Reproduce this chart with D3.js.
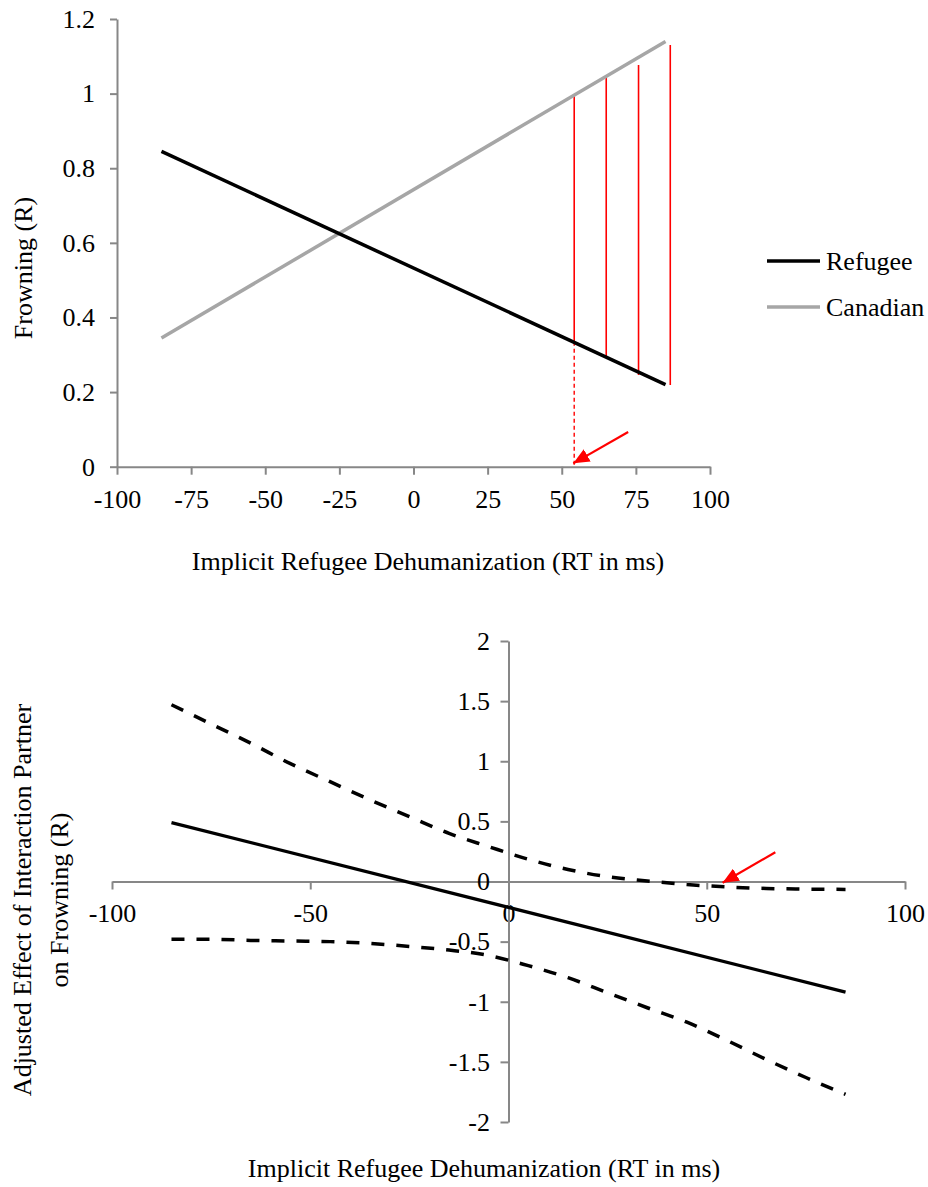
<!DOCTYPE html>
<html>
<head>
<meta charset="utf-8">
<script src="https://cdn.jsdelivr.net/npm/d3@7"></script>
<style>
  html, body { margin: 0; padding: 0; background: #fff; }
  svg { display: block; }
  text { font-family: "Liberation Serif", "Times New Roman", serif; fill: #000; }
</style>
</head>
<body>
<svg id="chart" width="928" height="1187"></svg>
<script>
// ---------- Top chart data ----------
const topXTicks = [-100, -75, -50, -25, 0, 25, 50, 75, 100];
const topYTicks = [0, 0.2, 0.4, 0.6, 0.8, 1, 1.2];
const groupX = [-85, 85];
const refugeeY = [0.845, 0.22];
const canadianY = [0.345, 1.14];
const seriesNames = ["Refugee", "Canadian"];
const redX = [54.2, 65.0, 75.9, 86.6];
const redTop = [0.997, 1.047, 1.077, 1.130];
const redBottom = [0.335, 0.295, 0.246, 0.219];
const topArrowFrom = [72.4, 0.093];
const topArrowTo = [53.9, 0.009];
const topXTitle = "Implicit Refugee Dehumanization (RT in ms)";
const topYTitle = "Frowning (R)";

// ---------- Bottom chart data ----------
const botXTicks = [-100, -50, 0, 50, 100];
const botYTicks = [-2, -1.5, -1, -0.5, 0, 0.5, 1, 1.5, 2];
const effX     = [-85, -75, -65, -55, -45, -35, -25, -15, -5, 5, 15, 25, 35, 45, 55, 65, 75, 85];
const effUpper = [1.47, 1.31, 1.15, 0.98, 0.83, 0.68, 0.54, 0.40, 0.29, 0.185, 0.10, 0.04, 0.005, -0.025, -0.045, -0.058, -0.063, -0.066];
const effLower = [-0.48, -0.48, -0.49, -0.495, -0.50, -0.515, -0.54, -0.57, -0.615, -0.70, -0.80, -0.925, -1.05, -1.17, -1.32, -1.48, -1.63, -1.77];
const effMidX = [-85, 85];
const effMid  = [0.49, -0.92];
const botArrowFrom = [67.3, 0.243];
const botArrowTo = [54.0, -0.011];
const botXTitle = "Implicit Refugee Dehumanization (RT in ms)";
const botYTitle = ["Adjusted Effect of Interaction Partner", "on Frowning (R)"];

const FONT = 26;
const AXIS = "#878787";
const GRAY = "#a6a6a6";
const RED = "#ff0000";

const svg = d3.select("#chart");
svg.append("rect").attr("width", 928).attr("height", 1187).attr("fill", "#fff");

const defs = svg.append("defs");
defs.append("marker")
  .attr("id", "arrowhead")
  .attr("markerUnits", "userSpaceOnUse")
  .attr("viewBox", "0 0 16 14")
  .attr("refX", 16).attr("refY", 7)
  .attr("markerWidth", 16).attr("markerHeight", 14)
  .attr("orient", "auto")
  .append("path").attr("d", "M0,0 L16,7 L0,14 Z").attr("fill", RED);

const fmt = d => String(d);

function styleAxis(g) {
  g.selectAll("path.domain").attr("stroke", AXIS).attr("stroke-width", 2);
  g.selectAll(".tick line").attr("stroke", AXIS).attr("stroke-width", 2);
  g.selectAll(".tick text").attr("font-size", FONT).attr("fill", "#000")
    .attr("font-family", '"Liberation Serif", "Times New Roman", serif');
}

// ================= TOP CHART =================
const xTop = d3.scaleLinear().domain([-100, 100]).range([117, 710]);
const yTop = d3.scaleLinear().domain([0, 1.2]).range([466.7, 19]);

const gTop = svg.append("g");

gTop.append("g").attr("transform", `translate(0,${yTop(0)})`)
  .call(d3.axisBottom(xTop).tickValues(topXTicks).tickSize(8).tickSizeOuter(0).tickPadding(14.5).tickFormat(fmt))
  .call(styleAxis);

gTop.append("g").attr("transform", `translate(${xTop(-100)},0)`)
  .call(d3.axisLeft(yTop).tickValues(topYTicks).tickSize(7).tickSizeOuter(0).tickPadding(15).tickFormat(fmt))
  .call(styleAxis);

const lineTop = d3.line().x(d => xTop(d[0])).y(d => yTop(d[1]));

// red vertical segments
gTop.append("g").selectAll("line.red").data(redX).join("line")
  .attr("x1", d => xTop(d)).attr("x2", d => xTop(d))
  .attr("y1", (d, i) => yTop(redTop[i])).attr("y2", (d, i) => yTop(redBottom[i]))
  .attr("stroke", RED).attr("stroke-width", 1.6);

// dashed drop line
gTop.append("line")
  .attr("x1", xTop(redX[0])).attr("x2", xTop(redX[0]))
  .attr("y1", yTop(redBottom[0])).attr("y2", yTop(0))
  .attr("stroke", RED).attr("stroke-width", 1.4).attr("stroke-dasharray", "4,3");

// series lines
gTop.append("path").datum(groupX.map((x, i) => [x, canadianY[i]]))
  .attr("d", lineTop).attr("fill", "none").attr("stroke", GRAY).attr("stroke-width", 3.5);
gTop.append("path").datum(groupX.map((x, i) => [x, refugeeY[i]]))
  .attr("d", lineTop).attr("fill", "none").attr("stroke", "#000").attr("stroke-width", 3.5);

// arrow
gTop.append("line")
  .attr("x1", xTop(topArrowFrom[0])).attr("y1", yTop(topArrowFrom[1]))
  .attr("x2", xTop(topArrowTo[0])).attr("y2", yTop(topArrowTo[1]))
  .attr("stroke", RED).attr("stroke-width", 2.2).attr("marker-end", "url(#arrowhead)");

// legend
const legendColors = ["#000", GRAY];
const legendY = [261, 307];
const leg = gTop.append("g");
seriesNames.forEach((name, i) => {
  leg.append("line").attr("x1", 767).attr("x2", 820).attr("y1", legendY[i]).attr("y2", legendY[i])
    .attr("stroke", legendColors[i]).attr("stroke-width", 3.5);
  leg.append("text").attr("x", 826).attr("y", legendY[i] + 9).attr("font-size", FONT).text(name);
});

// titles
gTop.append("text").attr("x", 428).attr("y", 570).attr("text-anchor", "middle")
  .attr("font-size", FONT).text(topXTitle);
gTop.append("text").attr("transform", "translate(32,268) rotate(-90)").attr("text-anchor", "middle")
  .attr("font-size", FONT).text(topYTitle);

// ================= BOTTOM CHART =================
const xBot = d3.scaleLinear().domain([-100, 100]).range([112, 905]);
const yBot = d3.scaleLinear().domain([-2, 2]).range([1122, 641]);

const gBot = svg.append("g");

gBot.append("g").attr("transform", `translate(0,${yBot(0)})`)
  .call(d3.axisBottom(xBot).tickValues(botXTicks).tickSize(8).tickSizeOuter(0).tickPadding(14.5).tickFormat(fmt))
  .call(styleAxis);

gBot.append("g").attr("transform", `translate(${xBot(0)},0)`)
  .call(d3.axisLeft(yBot).tickValues(botYTicks).tickSize(8).tickSizeOuter(0).tickPadding(10.5).tickFormat(fmt))
  .call(styleAxis);

const lineBot = d3.line().x(d => xBot(d[0])).y(d => yBot(d[1])).curve(d3.curveMonotoneX);

gBot.append("path").datum(effX.map((x, i) => [x, effUpper[i]]))
  .attr("d", lineBot).attr("fill", "none").attr("stroke", "#000").attr("stroke-width", 3.5)
  .attr("stroke-dasharray", "13,12");
gBot.append("path").datum(effX.map((x, i) => [x, effLower[i]]))
  .attr("d", lineBot).attr("fill", "none").attr("stroke", "#000").attr("stroke-width", 3.5)
  .attr("stroke-dasharray", "13,12");
gBot.append("path").datum(effMidX.map((x, i) => [x, effMid[i]]))
  .attr("d", lineBot).attr("fill", "none").attr("stroke", "#000").attr("stroke-width", 3.2);

gBot.append("line")
  .attr("x1", xBot(botArrowFrom[0])).attr("y1", yBot(botArrowFrom[1]))
  .attr("x2", xBot(botArrowTo[0])).attr("y2", yBot(botArrowTo[1]))
  .attr("stroke", RED).attr("stroke-width", 2.2).attr("marker-end", "url(#arrowhead)");

gBot.append("text").attr("x", 484).attr("y", 1177).attr("text-anchor", "middle")
  .attr("font-size", FONT).text(botXTitle);
const yt = gBot.append("text").attr("transform", "translate(31,900) rotate(-90)").attr("text-anchor", "middle")
  .attr("font-size", FONT);
botYTitle.forEach((t, i) => {
  yt.append("tspan").attr("x", 0).attr("dy", i === 0 ? 0 : 37).text(t);
});
</script>
</body>
</html>
